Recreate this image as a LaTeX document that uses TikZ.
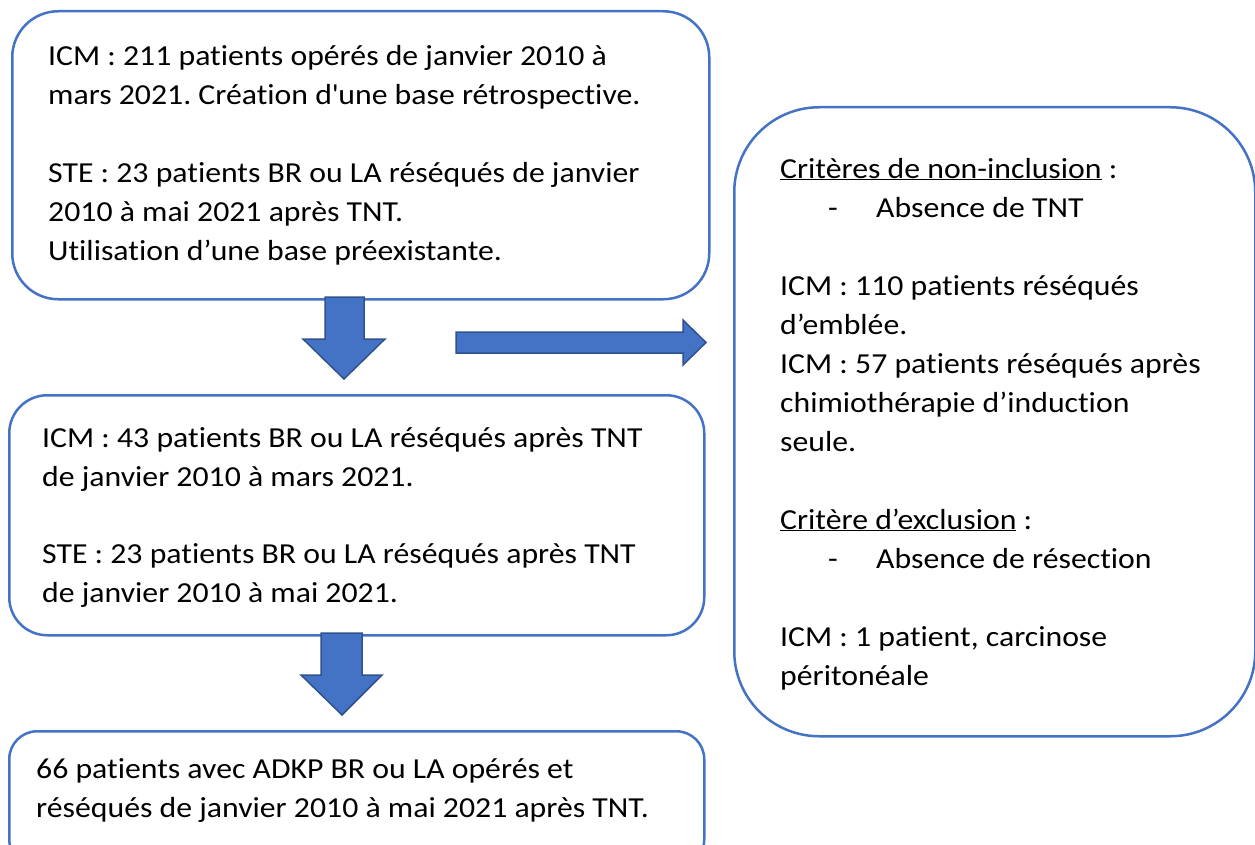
\documentclass[tikz,border=0pt]{standalone}
\usepackage{fontspec}
\setmainfont{Carlito}[FakeStretch=1.095, Ligatures={NoCommon}]
\frenchspacing
\definecolor{boxblue}{HTML}{4472C4}
\definecolor{arrowedge}{HTML}{2F528F}
\tikzset{
  box/.style={draw=boxblue, line width=2.5pt, fill=white, anchor=north west, inner sep=0pt},
  txt/.style={anchor=base west, inner sep=0pt, align=left, font=\fontsize{29}{39}\selectfont},
  blockarrow/.style={fill=boxblue, draw=arrowedge, line width=1.5pt, line join=miter}
}
\begin{document}
\begin{tikzpicture}[x=1pt,y=-1pt]
\useasboundingbox (0,0) rectangle (1255,845);
\clip (0,0) rectangle (1255,845);
% boxes
\node[box, minimum width=697pt, minimum height=288pt, rounded corners=46pt] (b1) at (11,10) {};
\node[box, minimum width=695pt, minimum height=240pt, rounded corners=38pt] (b2) at (8,394) {};
\node[box, minimum width=695pt, minimum height=136pt, rounded corners=28pt] (b3) at (8,730) {};
\node[box, minimum width=521pt, minimum height=629pt, rounded corners=85pt] (b4) at (733,106) {};
% texts (anchored at the baseline of their last line)
\node[txt] (t1) at (48,260) {ICM : 211 patients opérés de janvier 2010 à\\
mars 2021. Création d\textquotesingle une base rétrospective.\\[39pt]
STE : 23 patients BR ou LA réséqués de janvier\\
2010 à mai 2021 après TNT.\\
Utilisation d’une base préexistante.};
\node[txt] (t2) at (42,602) {ICM : 43 patients BR ou LA réséqués après TNT\\
de janvier 2010 à mars 2021.\\[38pt]
STE : 23 patients BR ou LA réséqués après TNT\\
de janvier 2010 à mai 2021.};
\node[txt] (t3) at (36,817) {66 patients avec ADKP BR ou LA opérés et\\
réséqués de janvier 2010 à mai 2021 après TNT.};
\node[txt] (t4) at (780,685) {\underline{Critères de non-inclusion} :\\
\hspace*{48pt}\makebox[48pt][l]{-}Absence de TNT\\[39pt]
ICM : 110 patients réséqués\\
d’emblée.\\
ICM : 57 patients réséqués après\\
chimiothérapie d’induction\\
seule.\\[39pt]
\underline{Critère d’exclusion} :\\
\hspace*{48pt}\makebox[48pt][l]{-}Absence de résection\\[39pt]
ICM : 1 patient, carcinose\\
péritonéale};
% block arrows
\draw[blockarrow] (325,297) -- (364,297) -- (364,339) -- (385,339) -- (344,379) -- (303,339) -- (325,339) -- cycle;
\draw[blockarrow] (456,332) -- (683,332) -- (683,320) -- (706,342.5) -- (683,365) -- (683,353) -- (456,353) -- cycle;
\draw[blockarrow] (321,633) -- (362,633) -- (362,675) -- (382,675) -- (342,715) -- (301,675) -- (321,675) -- cycle;
\end{tikzpicture}
\end{document}
